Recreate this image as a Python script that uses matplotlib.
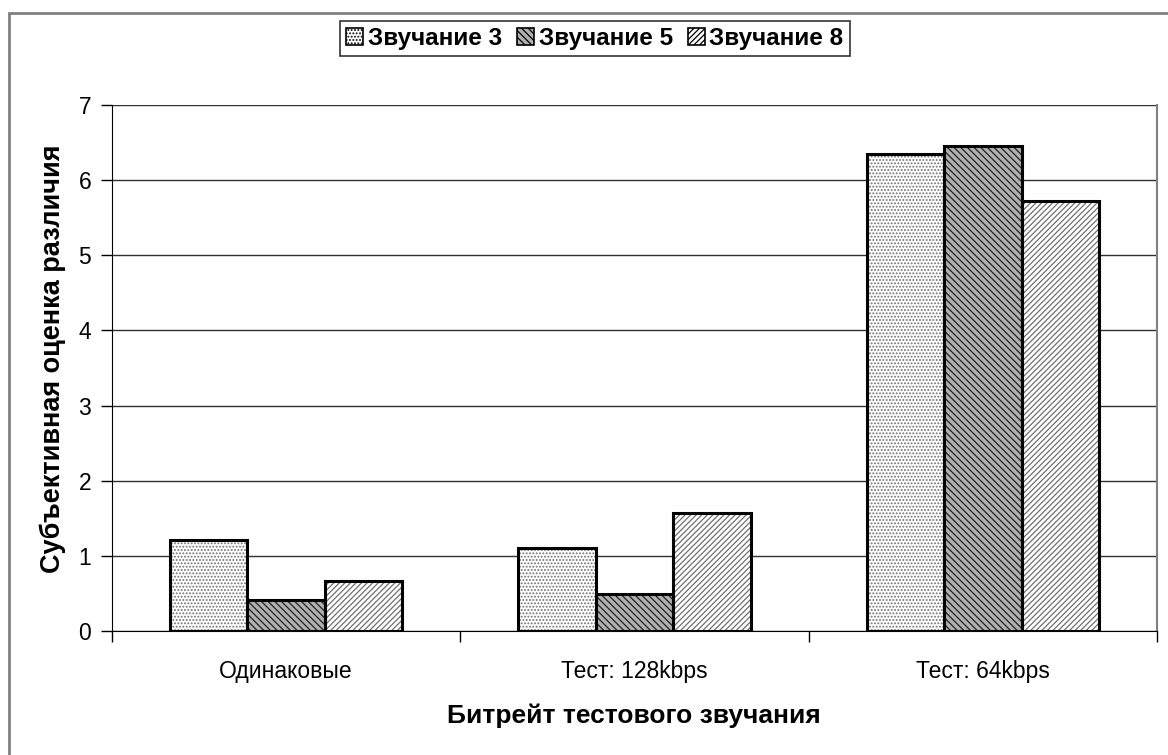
import matplotlib
matplotlib.use("Agg")
import matplotlib.pyplot as plt
import numpy as np
from matplotlib.patches import Rectangle, Patch

plt.rcParams['font.family'] = ['Liberation Sans', 'DejaVu Sans']
plt.rcParams['hatch.linewidth'] = 0.9

categories = ["Одинаковые", "Тест: 128kbps", "Тест: 64kbps"]
series_names = ["Звучание 3", "Звучание 5", "Звучание 8"]
s3 = [1.21, 1.10, 6.35]
s5 = [0.41, 0.49, 6.45]
s8 = [0.67, 1.57, 5.72]
yticks = [0, 1, 2, 3, 4, 5, 6, 7]
xlabel = "Битрейт тестового звучания"
ylabel = "Субъективная оценка различия"

W, H = 1168, 755
fig = plt.figure(figsize=(W/100, H/100), dpi=100)
ax = fig.add_axes([112/W, (H-631)/H, (1157-112)/W, (631-105)/H])

styles = [
    dict(face='white', hatch='.....', hcolor='#707070'),
    dict(face='#b0b0b0', hatch='\\\\\\\\\\', hcolor='#202020'),
    dict(face='white', hatch='//////', hcolor='#707070'),
]
x = np.arange(len(categories))
w = 1/4.5
for i, (vals, st) in enumerate(zip([s3, s5, s8], styles)):
    pos = x + (i-1)*w
    ax.bar(pos, vals, width=w, color=st['face'], hatch=st['hatch'],
           edgecolor=st['hcolor'], linewidth=0, zorder=3)
    ax.bar(pos, vals, width=w, fill=False, edgecolor='black', linewidth=2.2, zorder=4)

ax.set_xlim(-0.5, 2.5)
ax.set_ylim(0, 7)
ax.set_yticks(yticks)
ax.set_yticklabels([str(t) for t in yticks], fontsize=16.5)
ax.yaxis.grid(True, color='#303030', linewidth=1.0, zorder=0)
ax.set_axisbelow(True)

ax.set_xticks([-0.5, 0.5, 1.5, 2.5])
ax.set_xticklabels([])
ax.set_xticks(x, minor=True)
ax.set_xticklabels(categories, minor=True, fontsize=16.5)
ax.tick_params(axis='x', which='minor', length=0, pad=21)
ax.tick_params(axis='x', which='major', length=8, width=1, direction='out')
ax.tick_params(axis='y', length=8, width=1, direction='out', pad=7)

ax.spines['top'].set_visible(False)
ax.spines['right'].set_color('#808080')
ax.spines['right'].set_linewidth(1.5)
ax.spines['left'].set_color('black')
ax.spines['bottom'].set_color('black')

fig.text(634/W, 1-716/H, xlabel, ha='center', va='center', fontsize=19, fontweight='bold')
fig.text(53/W, 1-359/H, ylabel, ha='center', va='center', rotation=90, fontsize=19.5, fontweight='bold')

# chart border
fig.add_artist(Rectangle((9/W, -0.02), 1.1, (H-13)/H+0.02, transform=fig.transFigure,
                         fill=False, edgecolor='#808080', linewidth=2))

handles = [Patch(facecolor=st['face'], hatch=st['hatch'], edgecolor='black', linewidth=1.2)
           for st in styles]
leg = fig.legend(handles, series_names, loc='upper center', bbox_to_anchor=(595/W, 1-21/H),
                 ncol=3, frameon=True, fancybox=False, edgecolor='black',
                 prop=dict(size=17.5, weight='bold'), handlelength=0.7, handleheight=0.7,
                 handletextpad=0.2, columnspacing=0.6, borderpad=0.25, borderaxespad=0)
leg.get_frame().set_linewidth(1.2)

fig.savefig('out.png', dpi=100)
